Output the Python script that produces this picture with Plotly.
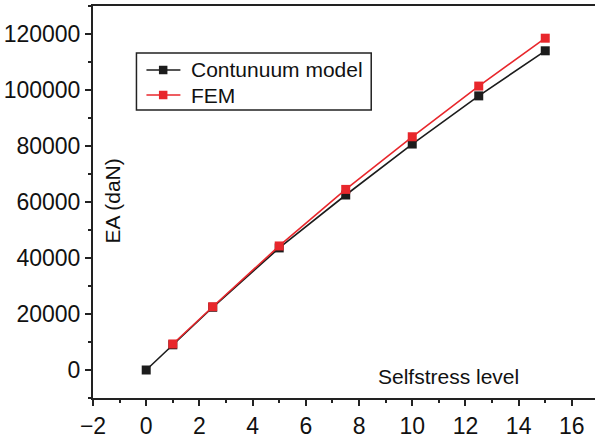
import plotly.graph_objects as go

x_cont = [0, 1, 2.5, 5, 7.5, 10, 12.5, 15]
y_cont = [0, 9000, 22400, 43600, 62500, 80700, 97900, 114000]
x_fem = [1, 2.5, 5, 7.5, 10, 12.5, 15]
y_fem = [9300, 22600, 44300, 64500, 83300, 101400, 118500]
names = ["Contunuum model", "FEM"]
colors = ["#1c1c1c", "#e8272c"]

FONT = "Liberation Sans, Arial, Helvetica, sans-serif"
W, H = 595, 438
ML, MT, MB, MR = 92.5, 6, 40, 0
PW, PH = W - ML - MR, H - MT - MB

def px(xp):
    return (xp - ML) / PW

def py(yp):
    return (H - MB - yp) / PH

fig = go.Figure()
for xs, ys, nm, c in [(x_cont, y_cont, names[0], colors[0]), (x_fem, y_fem, names[1], colors[1])]:
    fig.add_trace(go.Scatter(
        x=xs, y=ys, mode="lines+markers", name=nm,
        line=dict(color=c, width=1.6),
        marker=dict(symbol="square", size=9, color=c),
    ))

# manual legend (box, samples, labels)
shapes = [dict(type="rect", xref="paper", yref="paper",
               x0=px(136), x1=px(371), y0=py(110), y1=py(53),
               line=dict(color="#222222", width=1.5), fillcolor="white", layer="above")]
annotations = []
for i, (nm, c) in enumerate(zip(names, colors)):
    yr = 70 + 25 * i
    shapes.append(dict(type="line", xref="paper", yref="paper",
                       x0=px(146), x1=px(180), y0=py(yr), y1=py(yr),
                       line=dict(color=c, width=1.6), layer="above"))
    shapes.append(dict(type="rect", xref="paper", yref="paper",
                       x0=px(158.5), x1=px(167), y0=py(yr + 4.25), y1=py(yr - 4.25),
                       line=dict(color=c, width=0), fillcolor=c, layer="above"))
    annotations.append(dict(text=nm, xref="paper", yref="paper", x=px(189), y=py(yr),
                            showarrow=False, xanchor="left", yanchor="middle",
                            font=dict(size=21)))

annotations += [
    dict(text="EA (daN)", xref="paper", yref="paper", x=px(112), y=py(201),
         showarrow=False, textangle=-90, xanchor="center", yanchor="middle",
         font=dict(size=21)),
    dict(text="Selfstress level", xref="paper", yref="paper", x=px(448), y=py(376),
         showarrow=False, xanchor="center", yanchor="middle",
         font=dict(size=21)),
]

fig.update_layout(
    width=W, height=H,
    margin=dict(l=ML, r=MR, t=MT, b=MB, pad=0),
    paper_bgcolor="white", plot_bgcolor="white",
    font=dict(family=FONT, size=21, color="#111111"),
    showlegend=False,
    shapes=shapes,
    annotations=annotations,
    xaxis=dict(
        range=[-2, 16.87], showgrid=False, zeroline=False,
        showline=True, linecolor="#222222", linewidth=2, mirror=True,
        ticks="outside", ticklen=6, tickwidth=1.5, tickcolor="#222222",
        dtick=2, tick0=0,
        minor=dict(ticks="outside", ticklen=3, tickwidth=1.5, tickcolor="#222222", dtick=1),
        tickfont=dict(size=23),
    ),
    yaxis=dict(
        range=[-10000, 130000], showgrid=False, zeroline=False,
        showline=True, linecolor="#222222", linewidth=2,
        ticks="outside", ticklen=6, tickwidth=1.5, tickcolor="#222222",
        dtick=20000, tick0=0, tickformat="d",
        minor=dict(ticks="outside", ticklen=3, tickwidth=1.5, tickcolor="#222222", dtick=10000),
        tickfont=dict(size=23),
    ),
)

fig.write_html("out.html")
